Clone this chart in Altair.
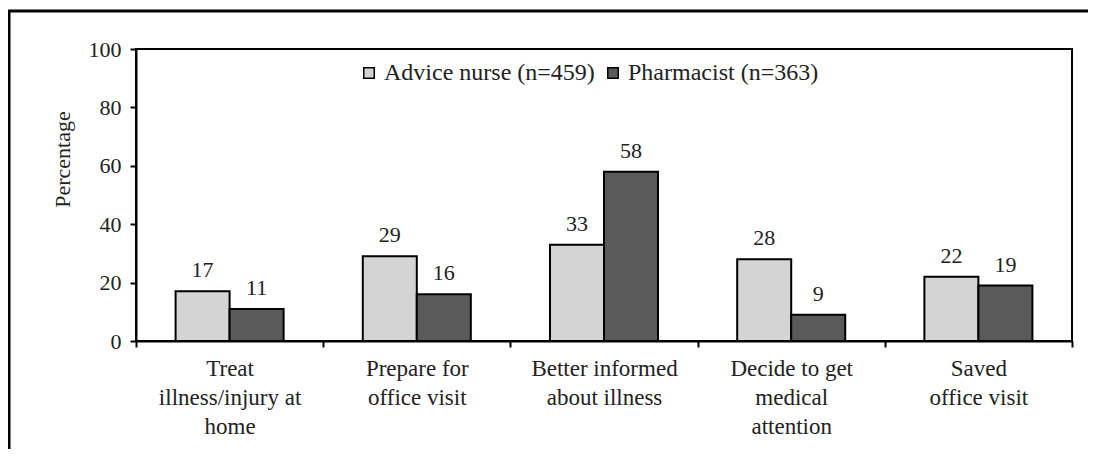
import altair as alt
import pandas as pd

categories = ["Treat|illness/injury at|home", "Prepare for|office visit",
              "Better informed|about illness", "Decide to get|medical|attention",
              "Saved|office visit"]
series = ["Advice nurse (n=459)", "Pharmacist (n=363)"]
nurse = [17, 29, 33, 28, 22]
pharm = [11, 16, 58, 9, 19]
colors = ["#d4d4d4", "#5a5a5a"]

rows = []
for c, a, b in zip(categories, nurse, pharm):
    rows.append({"cat": c, "series": series[0], "value": a})
    rows.append({"cat": c, "series": series[1], "value": b})
df = pd.DataFrame(rows)

FONT = "Liberation Serif"

x = alt.X("cat:N", sort=categories, title=None,
          scale=alt.Scale(paddingInner=0, paddingOuter=0),
          axis=alt.Axis(labelAngle=0, labelExpr="split(datum.label, '|')",
                        tickBand="extent", labelLineHeight=29, labelBaseline="top",
                        labelPadding=10, tickSize=6, labelFontSize=23, labelLimit=0))
xo = alt.XOffset("series:N", sort=series,
                 scale=alt.Scale(paddingInner=0, paddingOuter=0.733))

bars = alt.Chart(df).mark_bar(stroke="black", strokeWidth=2).encode(
    x=x,
    xOffset=xo,
    y=alt.Y("value:Q", scale=alt.Scale(domain=[0, 100]),
            axis=alt.Axis(values=[0, 20, 40, 60, 80, 100], title="Percentage",
                          titleFontSize=22, titleFontWeight="normal",
                          titlePadding=14, titleY=110, labelFontSize=22,
                          tickSize=6, labelPadding=9, grid=False)),
    color=alt.Color("series:N", sort=series,
                    scale=alt.Scale(domain=series, range=colors),
                    legend=alt.Legend(title=None, orient="none", legendX=221, legendY=12,
                                      direction="horizontal", symbolType="square",
                                      symbolSize=110, symbolStrokeColor="black",
                                      symbolStrokeWidth=1.5, labelFontSize=24,
                                      labelOffset=3, columnPadding=6, padding=0,
                                      labelLimit=0, labelFont=FONT, labelColor="#222")),
)

labels = alt.Chart(df).mark_text(baseline="alphabetic", dy=-14, fontSize=22,
                                 font=FONT, color="#222").encode(
    x=x, xOffset=xo, y="value:Q", text="value:Q")

frame_data = alt.Data(values=[{}])
frame_top = alt.Chart(frame_data).mark_rule(color="black", strokeWidth=3).encode(
    x=alt.value(-128), x2=alt.value(952), y=alt.value(-38))
frame_left = alt.Chart(frame_data).mark_rule(color="black", strokeWidth=3).encode(
    x=alt.value(-127), y=alt.value(-39), y2=alt.value(401))

chart = alt.layer(bars, labels, frame_top, frame_left).properties(
    width=936, height=292,
    autosize=alt.AutoSizeParams(type="none"),
    padding={"left": 128, "top": 41, "right": 20, "bottom": 108},
).configure(font=FONT).configure_view(
    stroke="black", strokeWidth=2
).configure_axis(
    domainColor="black", domainWidth=2, tickColor="black", tickWidth=2,
    labelColor="#222", titleColor="#222", labelFont=FONT, titleFont=FONT
)

chart.save("out.html", embed_options={"renderer": "svg", "actions": False})
